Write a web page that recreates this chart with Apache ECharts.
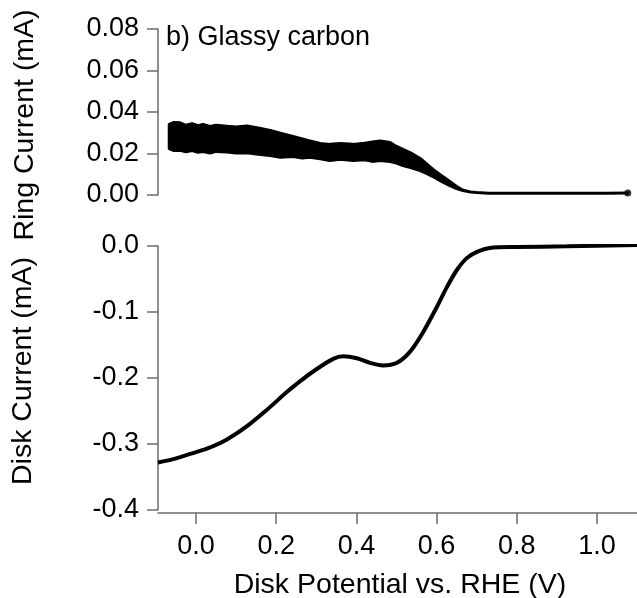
<!DOCTYPE html>
<html>
<head>
<meta charset="utf-8">
<script src="https://cdn.jsdelivr.net/npm/echarts@6/dist/echarts.min.js"></script>
<style>
  html, body { margin: 0; padding: 0; background: #fff; }
  #chart { width: 637px; height: 598px; }
</style>
</head>
<body>
<div id="chart"></div>
<script>
// ring current, upper / lower edge of the noisy band (mA)
var ringX = [-0.067, -0.055, -0.040, -0.025, -0.010, 0.005, 0.017, 0.035, 0.05, 0.077, 0.10, 0.127, 0.155, 0.185, 0.21, 0.242, 0.265, 0.284, 0.31, 0.334, 0.36, 0.392, 0.42, 0.44, 0.459, 0.484, 0.50, 0.516, 0.535, 0.559, 0.575, 0.591, 0.61, 0.633, 0.65, 0.666, 0.685, 0.70, 0.73, 0.758, 0.85, 0.95, 1.02, 1.077];
var ringHigh = [0.0340, 0.0350, 0.0348, 0.0336, 0.0344, 0.0334, 0.0340, 0.0330, 0.0336, 0.0331, 0.0328, 0.0333, 0.0323, 0.0311, 0.0298, 0.0282, 0.0270, 0.0260, 0.0248, 0.0244, 0.0248, 0.0244, 0.0250, 0.0256, 0.0260, 0.0253, 0.0234, 0.0220, 0.0203, 0.0176, 0.0150, 0.0123, 0.0096, 0.0065, 0.0041, 0.0023, 0.0015, 0.0012, 0.0009, 0.0008, 0.0008, 0.0008, 0.0008, 0.0010];
var ringLow = [0.0224, 0.0214, 0.0216, 0.0208, 0.0214, 0.0206, 0.0209, 0.0202, 0.0210, 0.0207, 0.0202, 0.0204, 0.0196, 0.0190, 0.0182, 0.0185, 0.0178, 0.0182, 0.0174, 0.0166, 0.0172, 0.0166, 0.0170, 0.0162, 0.0166, 0.0161, 0.0154, 0.0142, 0.0132, 0.0118, 0.0104, 0.0089, 0.0068, 0.0045, 0.0031, 0.0021, 0.0014, 0.0012, 0.0009, 0.0008, 0.0008, 0.0008, 0.0008, 0.0010];

// disk current (mA)
var diskX = [-0.095, -0.057, -0.015, 0.027, 0.077, 0.127, 0.177, 0.227, 0.259, 0.302, 0.342, 0.367, 0.401, 0.434, 0.466, 0.501, 0.534, 0.566, 0.601, 0.626, 0.651, 0.676, 0.701, 0.733, 0.80, 0.925, 1.10];
var diskY = [-0.328, -0.323, -0.315, -0.307, -0.293, -0.273, -0.248, -0.221, -0.205, -0.186, -0.171, -0.167, -0.170, -0.177, -0.181, -0.177, -0.160, -0.131, -0.092, -0.062, -0.036, -0.018, -0.009, -0.003, -0.0015, -0.0005, 0.0015];

var xTicks = [0, 0.2, 0.4, 0.6, 0.8, 1.0];

var chart = echarts.init(document.getElementById('chart'));
var font = 'Liberation Sans';
var axisGrey = '#6b6b6b';

function pairs(xs, ys) {
    var out = [];
    for (var i = 0; i < xs.length; i++) {
        out.push([xs[i], ys[i]]);
    }
    return out;
}

// polygon of the ring band: upper edge left->right, lower edge back
function renderBand(params, api) {
    var pts = [];
    var i;
    for (i = 0; i < ringX.length; i++) {
        pts.push(api.coord([ringX[i], ringHigh[i]]));
    }
    for (i = ringX.length - 1; i >= 0; i--) {
        pts.push(api.coord([ringX[i], ringLow[i]]));
    }
    return {
        type: 'polygon',
        shape: { points: pts },
        style: { fill: '#000', stroke: '#000', lineWidth: 3, lineJoin: 'round' }
    };
}

var last = ringX.length - 1;

var option = {
    animation: false,
    backgroundColor: '#fff',
    title: {
        text: 'b) Glassy carbon',
        left: 166,
        top: 24,
        padding: 0,
        textStyle: { fontFamily: font, fontSize: 27, fontWeight: 'normal', color: '#000' }
    },
    grid: [
        { left: 158, right: 0, top: 29, height: 166 },
        { left: 158, right: 0, top: 246, height: 264 }
    ],
    xAxis: [
        { gridIndex: 0, type: 'value', min: -0.095, max: 1.1, show: false },
        {
            gridIndex: 1, type: 'value', min: -0.095, max: 1.1, offset: 3,
            splitLine: { show: false },
            axisLine: { onZero: false, lineStyle: { color: axisGrey, width: 1.5 } },
            axisTick: { customValues: xTicks, length: 11, lineStyle: { color: axisGrey, width: 1.5 } },
            axisLabel: {
                customValues: xTicks, margin: 20,
                fontFamily: font, fontSize: 27, color: '#000',
                formatter: function (v) { return v.toFixed(1); }
            }
        }
    ],
    yAxis: [
        {
            gridIndex: 0, type: 'value', min: 0, max: 0.08, interval: 0.02,
            splitLine: { show: false },
            axisLine: { show: true, onZero: false, lineStyle: { color: axisGrey, width: 1.5 } },
            axisTick: { show: true, length: 11, lineStyle: { color: axisGrey, width: 1.5 } },
            axisLabel: {
                margin: 19, fontFamily: font, fontSize: 27, color: '#000',
                formatter: function (v) { return v.toFixed(2); }
            }
        },
        {
            gridIndex: 1, type: 'value', min: -0.4, max: 0, interval: 0.1,
            splitLine: { show: false },
            axisLine: { show: true, onZero: false, lineStyle: { color: axisGrey, width: 1.5 } },
            axisTick: { show: true, length: 11, lineStyle: { color: axisGrey, width: 1.5 } },
            axisLabel: {
                margin: 19, fontFamily: font, fontSize: 27, color: '#000',
                formatter: function (v) { return v.toFixed(1); }
            }
        }
    ],
    graphic: [
        {
            type: 'text', x: 25, y: 125, rotation: Math.PI / 2,
            style: { text: 'Ring Current (mA)', font: '28.5px "Liberation Sans"', fill: '#000', align: 'center', verticalAlign: 'middle' }
        },
        {
            type: 'text', x: 23, y: 371, rotation: Math.PI / 2,
            style: { text: 'Disk Current (mA)', font: '28.5px "Liberation Sans"', fill: '#000', align: 'center', verticalAlign: 'middle' }
        },
        {
            type: 'text', x: 400, y: 585,
            style: { text: 'Disk Potential vs. RHE (V)', font: '28.5px "Liberation Sans"', fill: '#000', align: 'center', verticalAlign: 'middle' }
        }
    ],
    series: [
        {
            type: 'custom', xAxisIndex: 0, yAxisIndex: 0,
            data: [[ringX[0], ringHigh[0]]],
            renderItem: renderBand
        },
        {
            type: 'scatter', xAxisIndex: 0, yAxisIndex: 0,
            data: [[ringX[last], (ringHigh[last] + ringLow[last]) / 2]],
            symbolSize: 7,
            itemStyle: { color: '#000' }
        },
        {
            type: 'line', xAxisIndex: 1, yAxisIndex: 1,
            data: pairs(diskX, diskY),
            showSymbol: false,
            smooth: 0.3,
            lineStyle: { color: '#000', width: 4 }
        }
    ]
};

chart.setOption(option);
</script>
</body>
</html>
